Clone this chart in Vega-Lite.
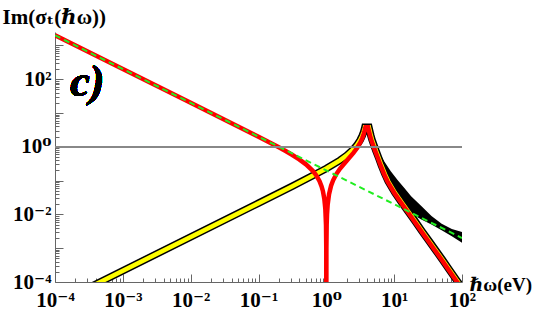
{
  "$schema": "https://vega.github.io/schema/vega-lite/v6.json",
  "width": 407,
  "height": 250,
  "autosize": {"type": "none"},
  "padding": {"left": 55, "top": 32, "right": 78, "bottom": 30},
  "background": "white",
  "config": {
    "view": {"stroke": null},
    "axis": {
      "domainColor": "#666666",
      "tickColor": "#666666",
      "domainWidth": 1,
      "tickWidth": 1,
      "grid": false,
      "labelFont": "Liberation Serif, DejaVu Serif, serif",
      "labelFontWeight": "bold",
      "labelFontSize": 21,
      "labelColor": "black",
      "labelOverlap": false,
      "labelFlush": false,
      "titleFont": "Liberation Serif, DejaVu Serif, serif",
      "titleFontWeight": "bold",
      "titleColor": "black"
    }
  },
  "data": {
    "values": [
      {"s": "g", "w": 0.0001, "v": 2000},
      {"s": "g", "w": 100, "v": 0.002},
      {"s": "r", "w": 0.0001, "v": 2000},
      {"s": "r", "w": 0.001, "v": 200},
      {"s": "r", "w": 0.01, "v": 20},
      {"s": "r", "w": 0.1, "v": 1.981},
      {"s": "r", "w": 0.1585, "v": 1.232},
      {"s": "r", "w": 0.1995, "v": 0.9647},
      {"s": "r", "w": 0.2512, "v": 0.7487},
      {"s": "r", "w": 0.3162, "v": 0.5725},
      {"s": "r", "w": 0.3981, "v": 0.4267},
      {"s": "r", "w": 0.5012, "v": 0.3031},
      {"s": "r", "w": 0.631, "v": 0.1953},
      {"s": "r", "w": 0.7079, "v": 0.1451},
      {"s": "r", "w": 0.7943, "v": 0.0965},
      {"s": "r", "w": 0.8511, "v": 0.0676},
      {"s": "r", "w": 0.8913, "v": 0.0484},
      {"s": "r", "w": 0.9333, "v": 0.0291},
      {"s": "r", "w": 0.9661, "v": 0.0146},
      {"s": "r", "w": 0.9886, "v": 0.00486},
      {"s": "r", "w": 0.9977, "v": 0.00098},
      {"s": "r", "w": 1, "v": 0.00000001},
      {"s": "r", "w": 1.0023, "v": 0.00097},
      {"s": "r", "w": 1.0116, "v": 0.0049},
      {"s": "r", "w": 1.0233, "v": 0.0098},
      {"s": "r", "w": 1.0471, "v": 0.0197},
      {"s": "r", "w": 1.0965, "v": 0.0396},
      {"s": "r", "w": 1.1749, "v": 0.0704},
      {"s": "r", "w": 1.2589, "v": 0.1022},
      {"s": "r", "w": 1.4125, "v": 0.1592},
      {"s": "r", "w": 1.585, "v": 0.223},
      {"s": "r", "w": 1.995, "v": 0.3874},
      {"s": "r", "w": 2.512, "v": 0.6633},
      {"s": "r", "w": 2.818, "v": 0.9064},
      {"s": "r", "w": 3.162, "v": 1.338},
      {"s": "r", "w": 3.388, "v": 1.818},
      {"s": "r", "w": 3.548, "v": 2.363},
      {"s": "r", "w": 3.673, "v": 3.027},
      {"s": "r", "w": 3.758, "v": 3.707},
      {"s": "r", "w": 3.776, "v": 3.8},
      {"s": "r", "w": 4.121, "v": 3.8},
      {"s": "r", "w": 4.266, "v": 2.818},
      {"s": "r", "w": 4.416, "v": 2.138},
      {"s": "r", "w": 4.571, "v": 1.66},
      {"s": "r", "w": 4.898, "v": 1.122},
      {"s": "r", "w": 5.248, "v": 0.759},
      {"s": "r", "w": 5.754, "v": 0.468},
      {"s": "r", "w": 6.31, "v": 0.282},
      {"s": "r", "w": 7.079, "v": 0.1585},
      {"s": "r", "w": 7.943, "v": 0.0955},
      {"s": "r", "w": 10, "v": 0.0437},
      {"s": "r", "w": 12.59, "v": 0.0224},
      {"s": "r", "w": 15.85, "v": 0.01175},
      {"s": "r", "w": 19.95, "v": 0.00617},
      {"s": "r", "w": 25.12, "v": 0.00316},
      {"s": "r", "w": 31.62, "v": 0.00166},
      {"s": "r", "w": 39.81, "v": 0.000871},
      {"s": "r", "w": 50.12, "v": 0.000457},
      {"s": "r", "w": 63.1, "v": 0.000234},
      {"s": "r", "w": 79.43, "v": 0.00012},
      {"s": "r", "w": 100, "v": 0.000063},
      {"s": "y", "w": 0.0001, "v": 0.0000215},
      {"s": "y", "w": 0.1, "v": 0.0215},
      {"s": "y", "w": 0.3162, "v": 0.06839},
      {"s": "y", "w": 1, "v": 0.2281},
      {"s": "y", "w": 1.585, "v": 0.3981},
      {"s": "y", "w": 1.995, "v": 0.5559},
      {"s": "y", "w": 2.512, "v": 0.8472},
      {"s": "y", "w": 2.818, "v": 1.114},
      {"s": "y", "w": 3.162, "v": 1.6},
      {"s": "y", "w": 3.388, "v": 2.143},
      {"s": "y", "w": 3.548, "v": 2.761},
      {"s": "y", "w": 3.673, "v": 3.516},
      {"s": "y", "w": 3.707, "v": 3.8},
      {"s": "y", "w": 4.236, "v": 3.8},
      {"s": "y", "w": 4.385, "v": 2.818},
      {"s": "y", "w": 4.539, "v": 2.138},
      {"s": "y", "w": 4.699, "v": 1.66},
      {"s": "y", "w": 5.035, "v": 1.122},
      {"s": "y", "w": 5.395, "v": 0.759},
      {"s": "y", "w": 5.916, "v": 0.468},
      {"s": "y", "w": 6.486, "v": 0.282},
      {"s": "y", "w": 7.278, "v": 0.1585},
      {"s": "y", "w": 8.166, "v": 0.0955},
      {"s": "y", "w": 10.28, "v": 0.0437},
      {"s": "y", "w": 12.94, "v": 0.0224},
      {"s": "y", "w": 16.29, "v": 0.01175},
      {"s": "y", "w": 20.51, "v": 0.00617},
      {"s": "y", "w": 25.82, "v": 0.00316},
      {"s": "y", "w": 32.51, "v": 0.00166},
      {"s": "y", "w": 40.93, "v": 0.000871},
      {"s": "y", "w": 51.52, "v": 0.000457},
      {"s": "y", "w": 64.86, "v": 0.000234},
      {"s": "y", "w": 81.66, "v": 0.00012},
      {"s": "y", "w": 102.8, "v": 0.000063},
      {"s": "b", "w": 5.012, "v": 1.5, "v2": 1.0},
      {"s": "b", "w": 5.623, "v": 0.891, "v2": 0.501},
      {"s": "b", "w": 7.079, "v": 0.38, "v2": 0.1585},
      {"s": "b", "w": 8.913, "v": 0.19, "v2": 0.0631},
      {"s": "b", "w": 11.22, "v": 0.105, "v2": 0.0316},
      {"s": "b", "w": 14.13, "v": 0.0603, "v2": 0.0166},
      {"s": "b", "w": 17.78, "v": 0.0347, "v2": 0.01072},
      {"s": "b", "w": 25.12, "v": 0.01778, "v2": 0.00708},
      {"s": "b", "w": 35.48, "v": 0.00891, "v2": 0.00501},
      {"s": "b", "w": 50.12, "v": 0.00525, "v2": 0.00339},
      {"s": "b", "w": 70.79, "v": 0.00372, "v2": 0.00224},
      {"s": "b", "w": 100, "v": 0.00302, "v2": 0.001445}
    ]
  },
  "layer": [
    {
      "transform": [{"filter": "datum.s == 'b'"}],
      "mark": {"type": "area", "color": "black", "clip": true},
      "encoding": {
        "x": {
          "field": "w", "type": "quantitative",
          "scale": {"type": "log", "domain": [0.0001, 100], "nice": false},
          "axis": {
            "title": "ℏω(eV)",
            "titleFontSize": 19,
            "titleAnchor": "start",
            "titleAlign": "left",
            "titleBaseline": "middle",
            "titleX": 414,
            "titleY": 2,
            "tickCount": 20,
            "labelBaseline": "top",
            "labelPadding": 15,
            "tickSize": {"condition": {"test": "abs(datum.value/pow(10,round(log(datum.value)/LN10))-1)<0.001", "value": -8}, "value": -4},
            "labelExpr": "abs(datum.value/pow(10,round(log(datum.value)/LN10))-1)<0.001 ? '10' + ['⁻⁴','⁻³','⁻²','⁻¹','⁰','¹','²','³'][round(log(datum.value)/LN10)+4] : ''"
          }
        },
        "y": {
          "field": "v", "type": "quantitative",
          "scale": {"type": "log", "domain": [0.0001, 2500], "nice": false},
          "axis": {
            "title": "Im(σₜ(ℏω))",
            "titleFontSize": 21,
            "titleAngle": 0,
            "titleAnchor": "start",
            "titleAlign": "left",
            "titleBaseline": "middle",
            "titleX": -53,
            "titleY": -15,
            "tickCount": 20,
            "labelPadding": 12,
            "tickSize": {"condition": {"test": "abs(datum.value/pow(10,round(log(datum.value)/LN10))-1)<0.001", "value": -8}, "value": -4},
            "labelExpr": "(abs(datum.value/pow(10,round(log(datum.value)/LN10))-1)<0.001 && (round(log(datum.value)/LN10)+4)%2==0) ? '10' + ['⁻⁴','⁻³','⁻²','⁻¹','⁰','¹','²','³'][round(log(datum.value)/LN10)+4] : ''"
          }
        },
        "y2": {"field": "v2"}
      }
    },
    {
      "transform": [{"filter": "datum.s == 'y'"}],
      "mark": {"type": "line", "color": "black", "strokeWidth": 7.5, "clip": true},
      "encoding": {
        "x": {"field": "w", "type": "quantitative"},
        "y": {"field": "v", "type": "quantitative"}
      }
    },
    {
      "transform": [{"filter": "datum.s == 'y'"}],
      "mark": {"type": "line", "color": "#ffff00", "strokeWidth": 4.5, "clip": true},
      "encoding": {
        "x": {"field": "w", "type": "quantitative"},
        "y": {"field": "v", "type": "quantitative"}
      }
    },
    {
      "transform": [{"filter": "datum.s == 'r'"}],
      "mark": {"type": "line", "color": "#ff0000", "strokeWidth": 4.5, "clip": true},
      "encoding": {
        "x": {"field": "w", "type": "quantitative"},
        "y": {"field": "v", "type": "quantitative"}
      }
    },
    {
      "transform": [{"filter": "datum.s == 'g'"}],
      "mark": {"type": "line", "color": "#22ee22", "strokeWidth": 2, "strokeDash": [6, 4], "clip": true},
      "encoding": {
        "x": {"field": "w", "type": "quantitative"},
        "y": {"field": "v", "type": "quantitative"}
      }
    },
    {
      "mark": {"type": "rule", "color": "#888888", "strokeWidth": 1.5},
      "encoding": {"y": {"datum": 1}}
    },
    {
      "mark": {"type": "text", "text": "c)", "font": "Liberation Serif, DejaVu Serif, serif", "fontSize": 44, "fontWeight": "bold", "fontStyle": "italic", "align": "center", "baseline": "alphabetic"},
      "encoding": {
        "x": {"datum": 0.0003},
        "y": {"datum": 32}
      }
    }
  ]
}
